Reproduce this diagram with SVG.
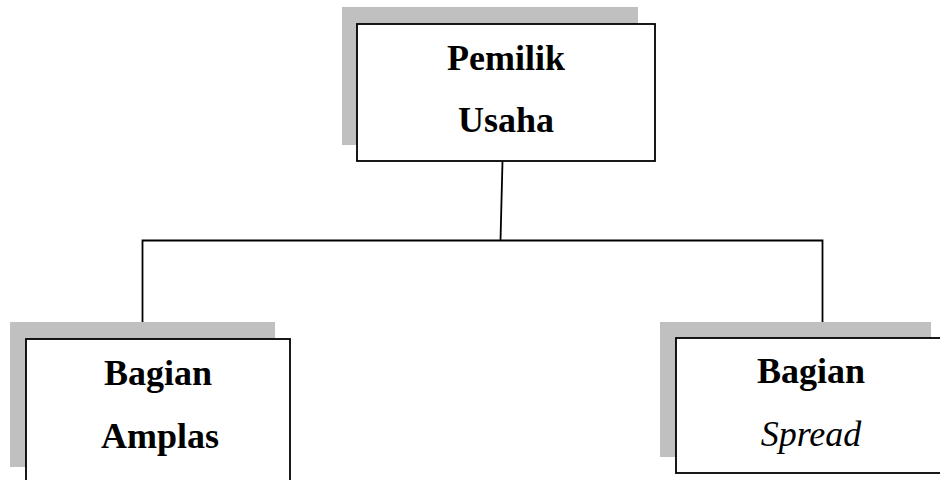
<svg xmlns="http://www.w3.org/2000/svg" width="940" height="480" viewBox="0 0 940 480">
  <style>
    .shadow { fill: #c0c0c0; }
    .box { fill: #ffffff; stroke: #000000; stroke-width: 1.8; }
    .label { font-family: "Liberation Serif", "Times New Roman", serif; font-size: 36px; font-weight: bold; fill: #000000; text-anchor: middle; }
    .label .it { font-style: italic; font-weight: normal; }
    .conn { fill: none; stroke: #000000; stroke-width: 1.8; }
  </style>
  <rect width="940" height="480" fill="#ffffff"/>

  <!-- connectors -->
  <g id="connectors">
    <path class="conn" d="M502.5 161 L500.5 240.5"/>
    <path class="conn" d="M142.5 339 L142.5 240.5 L822.5 240.5 L822.5 338"/>
  </g>

  <!-- owner -->
  <g id="pemilik-usaha">
    <rect class="shadow" x="342" y="7" width="296" height="138"/>
    <rect class="box" x="357" y="24" width="298" height="137"/>
    <text class="label" x="506" y="70">Pemilik</text>
    <text class="label" x="506" y="132">Usaha</text>
  </g>

  <!-- sanding division -->
  <g id="bagian-amplas">
    <rect class="shadow" x="10" y="322" width="265" height="145"/>
    <rect class="box" x="26" y="339" width="264" height="160"/>
    <text class="label" x="158" y="385">Bagian</text>
    <text class="label" x="160" y="448">Amplas</text>
  </g>

  <!-- spreading division -->
  <g id="bagian-spread">
    <rect class="shadow" x="660" y="322" width="271" height="135"/>
    <rect class="box" x="676" y="338" width="272" height="135"/>
    <text class="label" x="811" y="383">Bagian</text>
    <text class="label" x="811" y="446"><tspan class="it">Spread</tspan></text>
  </g>
</svg>
